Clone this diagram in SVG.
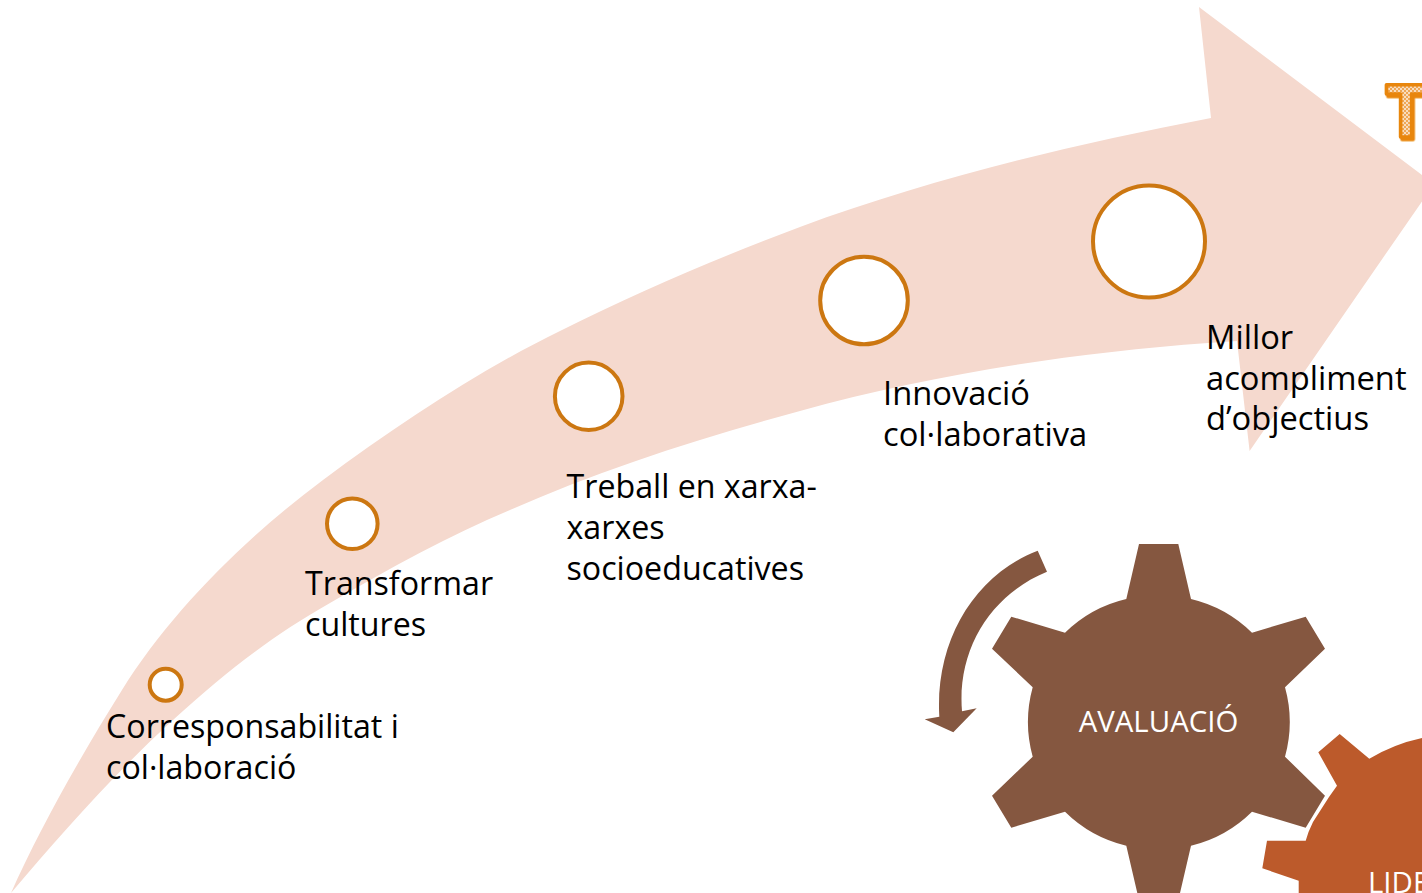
<svg xmlns="http://www.w3.org/2000/svg" width="1422" height="893" viewBox="0 0 1422 893">
<style>
.lbl{font-family:"Open Sans","Noto Sans",sans-serif;font-size:32.2px;fill:#000}
.lbl2{font-family:"Open Sans","Noto Sans",sans-serif;font-size:32.7px;fill:#000}
.gt{font-family:"Open Sans","Noto Sans",sans-serif;font-size:29.4px;fill:#fff}
.step{fill:#fff;stroke:#CC7711;stroke-width:4}
</style>
<defs>
<pattern id="chk" width="4" height="4" patternUnits="userSpaceOnUse">
<rect width="4" height="4" fill="#EFA756"/>
<rect width="2" height="2" fill="#F8DDBF"/>
<rect x="2" y="2" width="2" height="2" fill="#F8DDBF"/>
</pattern>
<filter id="sh" x="-20%" y="-20%" width="150%" height="150%">
<feDropShadow dx="1.5" dy="2.5" stdDeviation="0.3" flood-color="#E8860F"/>
</filter>
</defs>
<rect width="1422" height="893" fill="#fff"/>
<g id="arrow">
<path fill="#F5D9CE" d="M11,893 C38,832 80,757 122,690 C170,613 245,538 323,480 C400,423 480,370 560,331 C640,291 720,257 800,227 C930,179 1070,145 1211,118 L1199,7 L1434,184 L1249.6,451 L1237,341 L1208,343 C1070,353 930,375 800,411 C700,438 600,470 510,510 C450,535 390,568 330,603 C270,637 225,673 173,720 C115,773 60,835 11,893 Z"/>
</g>
<g id="title-letter">
<text x="1385" y="136.5" font-family="'Open Sans','Noto Sans',sans-serif" font-weight="700" font-size="73" fill="url(#chk)" stroke="#E8860F" stroke-width="3.6" stroke-linejoin="round" filter="url(#sh)">T</text>
</g>
<g id="step-1"><circle class="step" cx="165.7" cy="684.7" r="16"/>
<text class="lbl"><tspan x="106" y="738">Corresponsabilitat i</tspan><tspan x="106" y="779">col·laboració</tspan></text></g>
<g id="step-2"><circle class="step" cx="352.3" cy="523.7" r="25.3"/>
<text class="lbl"><tspan x="305" y="595">Transformar</tspan><tspan x="305" y="636">cultures</tspan></text></g>
<g id="step-3"><circle class="step" cx="588.7" cy="396.3" r="33.8"/>
<text class="lbl"><tspan x="566.5" y="498">Treball en xarxa-</tspan><tspan x="566.5" y="539">xarxes</tspan><tspan x="566.5" y="580">socioeducatives</tspan></text></g>
<g id="step-4"><circle class="step" cx="864" cy="300.5" r="43.8"/>
<text class="lbl2"><tspan x="883" y="405">Innovació</tspan><tspan x="883" y="446">col·laborativa</tspan></text></g>
<g id="step-5"><circle class="step" cx="1149" cy="241.5" r="56"/>
<text class="lbl2"><tspan x="1206" y="349">Millor</tspan><tspan x="1206" y="390">acompliment</tspan><tspan x="1206" y="430">d’objectius</tspan></text></g>
<g id="gear-lideratge">
<path fill="#BC5A2B" d="M1339.7,734 L1369.3,758.7 Q1394,744 1422,738 L1422,893 L1298.7,893 L1298.7,880.7 L1262.3,868.3 L1267,840.7 L1305.7,840.7 Q1308,832 1313,822 L1329,797 L1337,785.7 L1318.3,752.3 Z"/>
<text class="gt" x="1368" y="893">LIDE</text>
</g>
<g id="gear-avaluacio">
<path fill="#855740" d="M1139,544 L1178.3,544 L1191,599 A130,130 0 0 1 1252,632.7 L1305.7,616.7 L1325,648.7 L1285,687.3 A130,130 0 0 1 1285,756.7 L1325,795.7 L1305.7,827.7 L1252,811.7 A130,130 0 0 1 1191,845.7 L1180,893 L1137.3,893 L1126.3,845.7 A130,130 0 0 1 1065,811.7 L1011.3,827.7 L992,795.7 L1032.7,756.7 A130,130 0 0 1 1032.7,687.3 L992,648.7 L1011.3,616.7 L1065,632.7 A130,130 0 0 1 1126.3,599 Z"/>
<text class="gt" x="1158.5" y="731.5" text-anchor="middle">AVALUACIÓ</text>
</g>
<g id="connectors">
<path fill="#855740" d="M1037.7,550.7 C975,575 935,640 939.3,716.7 L924.7,719.3 L953.3,732.3 L976.7,708.3 L962,711.3 C957,650 990,595 1047,571.7 Z"/>
</g>
</svg>
